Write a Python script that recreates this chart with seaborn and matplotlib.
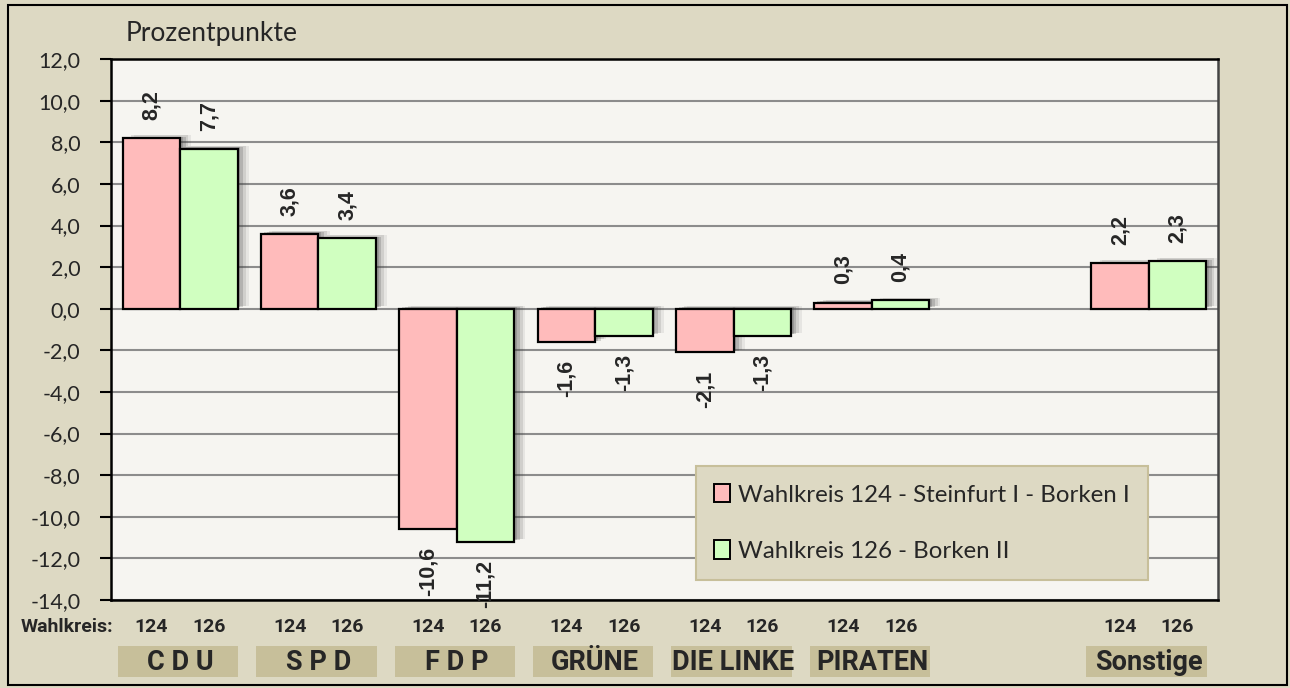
import matplotlib
matplotlib.use("Agg")
import numpy as np
import pandas as pd
import matplotlib.pyplot as plt
import matplotlib.patheffects as pe
from matplotlib.patches import Patch, Rectangle
from matplotlib.ticker import FuncFormatter, MultipleLocator
import matplotlib.transforms as mtransforms
import seaborn as sns

# data
parties = ["C D U", "S P D", "F D P", "GRÜNE", "DIE LINKE", "PIRATEN", " ", "Sonstige"]
parties_with_data = ["C D U", "S P D", "F D P", "GRÜNE", "DIE LINKE", "PIRATEN", "Sonstige"]
wk124 = [8.2, 3.6, -10.6, -1.6, -2.1, 0.3, 2.2]
wk126 = [7.7, 3.4, -11.2, -1.3, -1.3, 0.4, 2.3]
series_names = ["Wahlkreis 124 - Steinfurt I - Borken I", "Wahlkreis 126 - Borken II"]
series_short = ["124", "126"]
colors = ["#FFBBBB", "#D0FFC0"]

FIG_BG = "#DDD9C3"
PLOT_BG = "#F6F5F1"
BOX_BG = "#C7BF9A"

df = pd.DataFrame({
    "party": parties_with_data * 2,
    "wk": [series_names[0]] * len(wk124) + [series_names[1]] * len(wk126),
    "value": wk124 + wk126,
})

sns.set_style("white")
plt.rcParams["font.family"] = ["Lato", "DejaVu Sans"]
NARROW = ["Roboto", "DejaVu Sans"]
ARIAL = ["Liberation Sans", "DejaVu Sans"]

fig = plt.figure(figsize=(12.9, 6.88), dpi=100, facecolor=FIG_BG)
ax = fig.add_axes([0.086, 0.128, 0.858, 0.786])
ax.set_facecolor(PLOT_BG)

sns.barplot(
    data=df, x="party", y="value", hue="wk",
    order=parties, hue_order=series_names, palette=colors,
    edgecolor="black", linewidth=1.6, width=0.83, gap=0,
    saturation=1, legend=False, ax=ax, zorder=3,
)

# soft drop shadow, built from a few faint layers
shadow = [
    pe.SimplePatchShadow(offset=(8, 2), shadow_rgbFace="#333333", alpha=0.08),
    pe.SimplePatchShadow(offset=(6, 2), shadow_rgbFace="#333333", alpha=0.12),
    pe.SimplePatchShadow(offset=(4, 1), shadow_rgbFace="#333333", alpha=0.18),
    pe.SimplePatchShadow(offset=(2, 1), shadow_rgbFace="#333333", alpha=0.2),
    pe.Normal(),
]
for p in ax.patches:
    p.set_path_effects(shadow)

ax.set_ylim(-14, 12)
ax.yaxis.set_major_locator(MultipleLocator(2))
ax.yaxis.set_major_formatter(FuncFormatter(lambda v, _: f"{v:.1f}".replace(".", ",")))
ax.grid(axis="y", color="#8C8C8C", linewidth=1.5, zorder=0)
ax.set_axisbelow(True)
ax.tick_params(axis="y", direction="out", length=8, width=1.5, color="black",
               labelsize=15.5, pad=14, left=True)
ax.tick_params(axis="x", length=0, labelbottom=False)
ax.set_xlabel("")
ax.set_ylabel("")
for s in ax.spines.values():
    s.set_visible(True)
    s.set_color("black")
    s.set_linewidth(1.8)
ax.spines["right"].set_color("#444444")

# value labels
for cont in ax.containers:
    labels = [f"{v:.1f}".replace(".", ",") for v in cont.datavalues]
    ax.bar_label(cont, labels=labels, rotation=90, padding=13, fontsize=15.5,
                 fontweight="bold", family=ARIAL, zorder=5)

# axis annotations below plot
trans = mtransforms.blended_transform_factory(ax.transData, ax.transAxes)
for cont, short in zip(ax.containers, series_short):
    for p in cont.patches:
        if np.isnan(p.get_height()):
            continue
        ax.text(p.get_x() + p.get_width() / 2, -0.05, short, transform=trans,
                ha="center", va="center", fontsize=14, fontweight="bold",
                family=NARROW, clip_on=False)

for i, name in enumerate(parties):
    if not name.strip():
        continue
    ax.add_patch(Rectangle((i - 0.45, -0.142), 0.87, 0.056, transform=trans,
                           facecolor=BOX_BG, edgecolor="none", clip_on=False))
    ax.text(i, -0.116, name, transform=trans, ha="center", va="center",
            fontsize=19.5, fontweight="bold", family=NARROW, clip_on=False)

fig.text(0.088, 0.089, "Wahlkreis:", ha="right", va="center", fontsize=14,
         fontweight="bold", family=NARROW)
fig.text(0.097, 0.952, "Prozentpunkte", ha="left", va="center", fontsize=19)

# legend
handles = [Patch(facecolor=c, edgecolor="black", linewidth=1.4) for c in colors]
leg = ax.legend(handles, series_names, loc="lower left", bbox_to_anchor=(0.529, 0.037),
                fontsize=17.3, frameon=True, fancybox=False, handlelength=0.65,
                handleheight=0.8, handletextpad=0.35, labelspacing=1.45,
                borderpad=0.75, borderaxespad=0)
leg.get_frame().set_facecolor(FIG_BG)
leg.get_frame().set_edgecolor(BOX_BG)
leg.get_frame().set_linewidth(1.5)
leg.get_frame().set_alpha(1)
leg.set_zorder(6)

# outer border
fig.patches.append(Rectangle((0.006, 0.005), 0.992, 0.988, transform=fig.transFigure,
                             fill=False, edgecolor="black", linewidth=1.5))

fig.savefig("out.png", dpi=100, facecolor=FIG_BG)
